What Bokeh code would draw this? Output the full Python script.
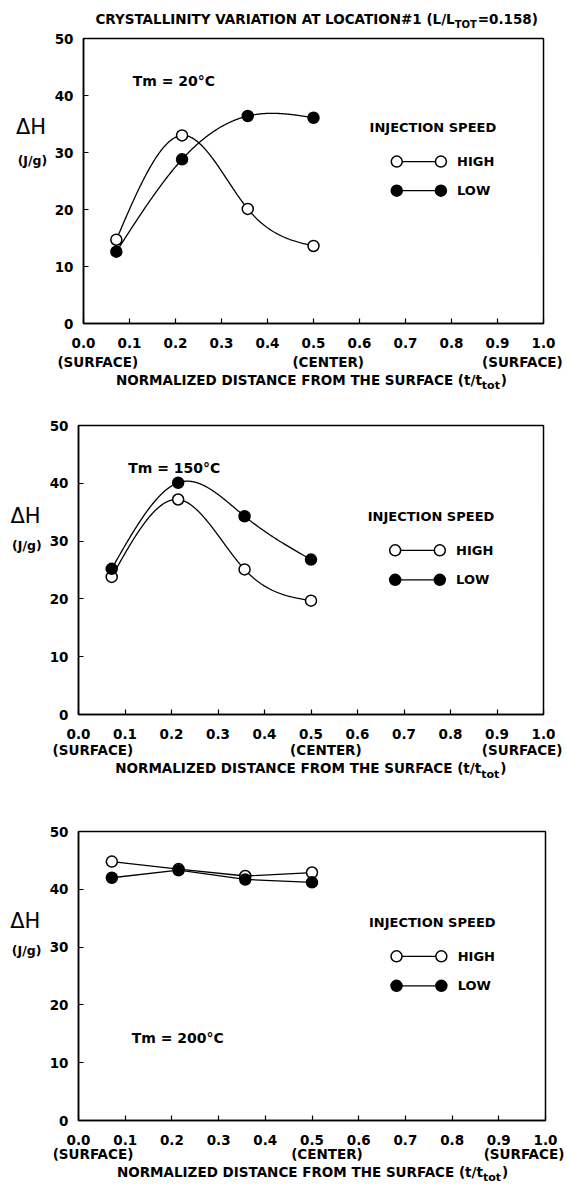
import numpy as np
from bokeh.plotting import figure
from bokeh.layouts import column
from bokeh.models import Range1d, FixedTicker, Label, BoxAnnotation
from bokeh.embed import file_html
from bokeh.resources import INLINE

# ---- data ----
x_pos = [0.0714, 0.2143, 0.3571, 0.5]
p1_high = [14.7, 33.0, 20.1, 13.6]
p1_low = [12.6, 28.8, 36.4, 36.1]
p2_high = [23.8, 37.2, 25.1, 19.7]
p2_low = [25.2, 40.1, 34.3, 26.8]
p3_high = [44.8, 43.5, 42.3, 42.9]
p3_low = [42.0, 43.3, 41.7, 41.2]
x_ticks = [0.0, 0.1, 0.2, 0.3, 0.4, 0.5, 0.6, 0.7, 0.8, 0.9, 1.0]
x_tick_labels = ["0.0", "0.1", "0.2", "0.3", "0.4", "0.5", "0.6", "0.7", "0.8", "0.9", "1.0"]
y_ticks = [0, 10, 20, 30, 40, 50]
x_min, x_max = 0.0, 1.0
y_min, y_max = 0.0, 50.0
tm_labels = ["Tm = 20°C", "Tm = 150°C", "Tm = 200°C"]
series_names = ["HIGH", "LOW"]

FONT = "DejaVu Sans"
W = 567


def natural_spline(xs, ys, n=240):
    xs = np.asarray(xs, float)
    ys = np.asarray(ys, float)
    k = len(xs)
    h = np.diff(xs)
    A = np.zeros((k, k))
    r = np.zeros(k)
    A[0, 0] = 1
    A[-1, -1] = 1
    for i in range(1, k - 1):
        A[i, i - 1] = h[i - 1]
        A[i, i] = 2 * (h[i - 1] + h[i])
        A[i, i + 1] = h[i]
        r[i] = 6 * ((ys[i + 1] - ys[i]) / h[i] - (ys[i] - ys[i - 1]) / h[i - 1])
    M = np.linalg.solve(A, r)
    tx, ty = [], []
    for i in range(k - 1):
        t = np.linspace(xs[i], xs[i + 1], n // (k - 1))
        hi = h[i]
        s = (M[i] * (xs[i + 1] - t) ** 3 / (6 * hi)
             + M[i + 1] * (t - xs[i]) ** 3 / (6 * hi)
             + (ys[i] / hi - M[i] * hi / 6) * (xs[i + 1] - t)
             + (ys[i + 1] / hi - M[i + 1] * hi / 6) * (t - xs[i]))
        tx.extend(t)
        ty.extend(s)
    return tx, ty


def lab(p, x, y, text, size="13.5px", bold=True, align="left", baseline="middle"):
    p.add_layout(Label(x=x, y=y, text=text, text_font=FONT,
                       text_font_size=size,
                       text_font_style="bold" if bold else "normal",
                       text_align=align, text_baseline=baseline,
                       text_color="black"))


def make_panel(high, low, tm_text, tm_xy, smooth, box, H, ylab_y, xlab_y, title=False):
    L, R, T, B = box  # plot box in canvas pixels
    sx = (R - L) / (x_max - x_min)
    sy = (B - T) / (y_max - y_min)
    xr = Range1d(x_min - L / sx, x_min + (W - L) / sx)
    yr = Range1d(y_min - (H - B) / sy, y_max + T / sy)
    p = figure(width=W, height=H, x_range=xr, y_range=yr,
               output_backend="svg", toolbar_location=None, min_border=0)
    p.xgrid.visible = False
    p.ygrid.visible = False
    p.outline_line_color = None
    p.background_fill_color = "white"
    p.border_fill_color = "white"
    for ax in (p.xaxis[0], p.yaxis[0]):
        ax.fixed_location = 0
        ax.axis_line_width = 1.5
        ax.axis_line_color = "black"
        ax.major_tick_in = 5
        ax.major_tick_out = 0
        ax.minor_tick_in = 0
        ax.minor_tick_out = 0
        ax.major_tick_line_width = 1.2
        ax.major_tick_line_color = "black"
        ax.major_label_text_font = FONT
        ax.major_label_text_font_style = "bold"
        ax.major_label_text_font_size = "13.5px"
        ax.major_label_text_color = "black"
    p.xaxis.bounds = (x_min, x_max)
    p.yaxis.bounds = (y_min, y_max)
    p.xaxis.ticker = FixedTicker(ticks=x_ticks)
    p.xaxis.major_label_overrides = {t: l for t, l in zip(x_ticks, x_tick_labels)}
    p.xaxis.major_label_standoff = 14
    p.yaxis.ticker = FixedTicker(ticks=y_ticks)
    p.yaxis.major_label_standoff = 10

    p.add_layout(BoxAnnotation(left=x_min, right=x_max, bottom=y_min, top=y_max,
                               fill_alpha=0, line_color="black", line_width=1.5,
                               line_alpha=1))

    for ys, filled in ((high, False), (low, True)):
        if smooth:
            cx, cy = natural_spline(x_pos, ys)
        else:
            cx, cy = x_pos, ys
        p.line(cx, cy, line_color="black", line_width=1.3)
        p.scatter(x_pos, ys, size=11, marker="circle", line_color="black",
                  line_width=1.5, fill_color="black" if filled else "white")

    # legend
    lab(p, 0.622, 34.3, "INJECTION SPEED", size="13px")
    for yy, filled, name in ((28.4, False, series_names[0]), (23.3, True, series_names[1])):
        p.line([0.681, 0.777], [yy, yy], line_color="black", line_width=1.2)
        p.scatter([0.681, 0.777], [yy, yy], size=11, marker="circle", line_color="black",
                  line_width=1.5, fill_color="black" if filled else "white")
        lab(p, 0.812, yy, name, size="13px")

    lab(p, tm_xy[0], tm_xy[1], tm_text, size="14px")

    # y label
    lab(p, -0.114, ylab_y[0], "ΔH", size="21px", bold=False, align="center")
    lab(p, -0.111, ylab_y[1], "(J/g)", size="12.5px", align="center")

    # x extra labels
    sy_, ty, suby = xlab_y
    lab(p, 0.031, sy_, "(SURFACE)", align="center")
    lab(p, 0.532, sy_, "(CENTER)", align="center")
    lab(p, 0.954, sy_, "(SURFACE)", align="center")
    lab(p, 0.866, ty, "NORMALIZED DISTANCE FROM THE SURFACE (t/t", align="right")
    lab(p, 0.866, suby, "tot", size="11px")
    lab(p, 0.907, ty, ")")

    if title:
        lab(p, 0.807, 53.5, "CRYSTALLINITY VARIATION AT LOCATION#1 (L/L", align="right")
        lab(p, 0.807, 52.5, "TOT", size="10px")
        lab(p, 0.857, 53.5, "=0.158)")
    return p


p1 = make_panel(p1_high, p1_low, tm_labels[0], (0.107, 42.5), True,
                (83, 543, 38, 323), 392, (34.4, 28.6), (-6.7, -9.9, -10.9), title=True)
p2 = make_panel(p2_high, p2_low, tm_labels[1], (0.107, 42.7), True,
                (78, 543, 33, 322), 393, (34.3, 29.3), (-6.2, -9.3, -10.3))
p3 = make_panel(p3_high, p3_low, tm_labels[2], (0.114, 14.3), False,
                (78, 545, 46, 335), 405, (34.6, 29.4), (-5.8, -8.9, -9.8))

layout = column(p1, p2, p3, spacing=0)
open("out.html", "w").write(file_html(layout, INLINE))
